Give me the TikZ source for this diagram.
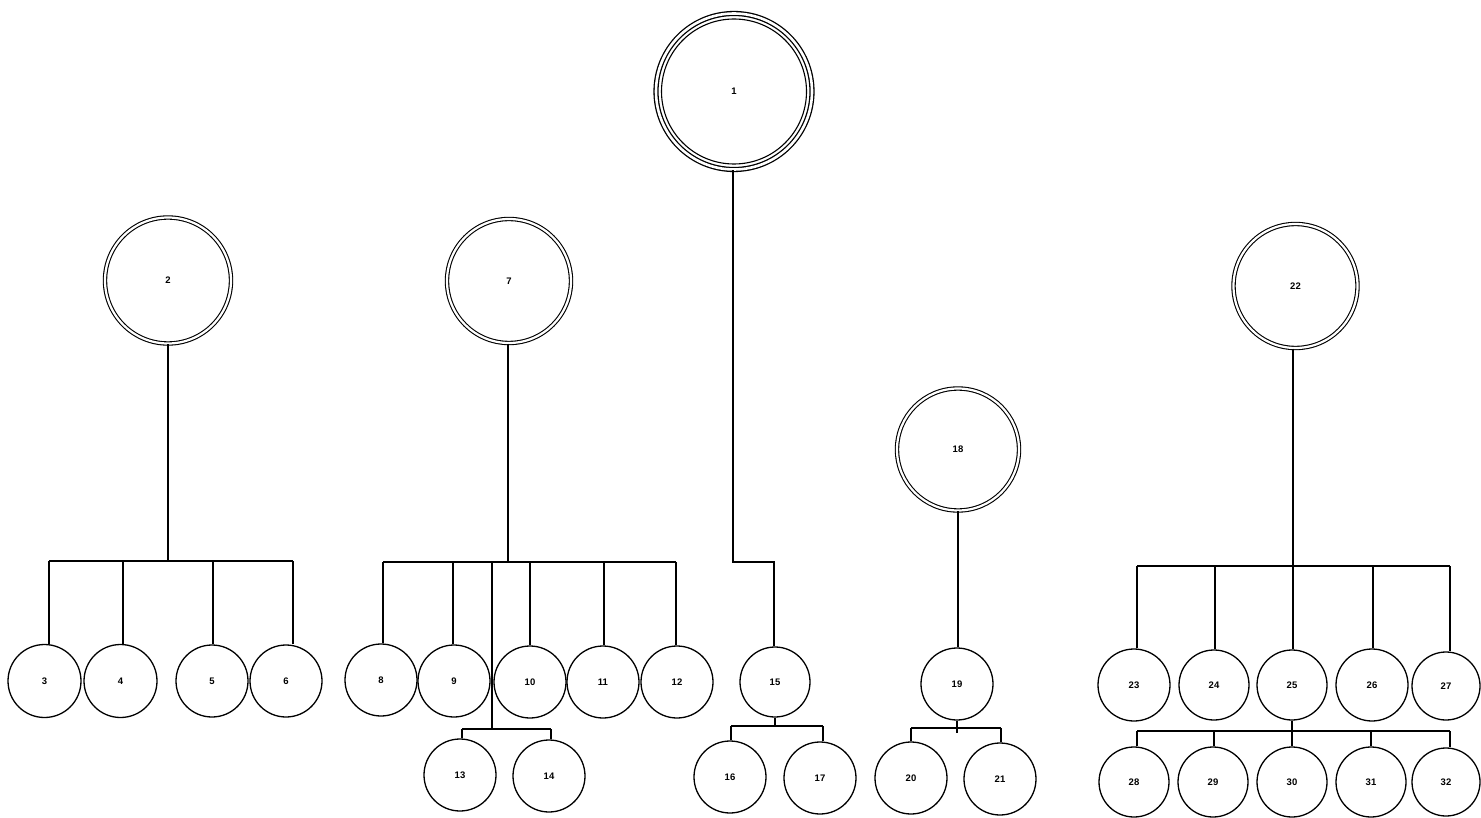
\documentclass[tikz,border=0pt]{standalone}
\usepackage{fontspec}
\setmainfont{Liberation Sans}
\begin{document}
\begin{tikzpicture}[x=1pt,y=-1pt,
  every node/.style={font=\fontsize{9.5}{10}\selectfont\bfseries},
  leaf/.style={circle,draw,line width=1.3pt,minimum size=72pt,inner sep=0pt},
  parent/.style={circle,draw,line width=1.1pt,double,double distance=2.2pt,minimum size=124pt,inner sep=0pt},
  conn/.style={line width=1.3pt}]
\useasboundingbox (0,0) rectangle (1481,818);
% ---- top node 1 (triple ring)
\node[circle,draw,line width=1.3pt,double,double distance=2.6pt,minimum size=156pt,inner sep=0pt] (n1) at (734,91.5) {1};
\draw[line width=1.1pt] (n1.center) circle (72.5);
% ---- parents
\node[parent,minimum size=126pt] (n2) at (168,280.5) {2};
\node[parent] (n7) at (509,281) {7};
\node[parent,minimum size=122pt] (n18) at (958,449.5) {18};
\node[parent] (n22) at (1295.5,286) {22};
% ---- group 2
\node[leaf,minimum size=73pt] (n3) at (44.5,681) {3};
\node[leaf,minimum size=73pt] (n4) at (120.5,681) {4};
\node[leaf,minimum size=72pt] (n5) at (212,681) {5};
\node[leaf,minimum size=72pt] (n6) at (286,681) {6};
\coordinate (j2) at (168,561);
\coordinate (b3) at (49,561);
\coordinate (b4) at (123,561);
\coordinate (b5) at (213,561);
\coordinate (b6) at (293,561);
\draw[conn] (n2.south) -- (j2);
\draw[conn] (b3) -- (b6);
\foreach \b/\n in {b3/n3,b4/n4,b5/n5,b6/n6} \draw[conn] (\b) -- (\b |- \n.north);
% ---- group 7
\node[leaf] (n8) at (381,680) {8};
\node[leaf] (n9) at (454,681) {9};
\node[leaf] (n10) at (530,682) {10};
\node[leaf] (n11) at (603,682) {11};
\node[leaf] (n12) at (677,682) {12};
\node[leaf] (n13) at (460,775) {13};
\node[leaf] (n14) at (549,776) {14};
\coordinate (j7) at (508,562);
\coordinate (b8) at (383,562);
\coordinate (b9) at (453,562);
\coordinate (bx) at (492,562);
\coordinate (b10) at (530,562);
\coordinate (b11) at (604,562);
\coordinate (b12) at (676,562);
\coordinate (s7) at (492,729);
\coordinate (b13) at (462,729);
\coordinate (b14) at (551,729);
\draw[conn] (n7.south -| j7) -- (j7);
\draw[conn] (b8) -- (b12);
\foreach \b/\n in {b8/n8,b9/n9,b10/n10,b11/n11,b12/n12} \draw[conn] (\b) -- (\b |- \n.north);
\draw[conn] (bx) -- (s7);
\draw[conn] (b13) -- (b14);
\foreach \b/\n in {b13/n13,b14/n14} \draw[conn] (\b) -- (\b |- \n.north);
% ---- group 1
\node[leaf,minimum size=70pt] (n15) at (775,682) {15};
\node[leaf] (n16) at (730,777) {16};
\node[leaf] (n17) at (820,778) {17};
\coordinate (j1) at (733,562);
\coordinate (k1) at (774,562);
\draw[conn] (n1.south -| j1) -- (j1) -- (k1) -- (k1 |- n15.north);
\coordinate (j15) at (775,726);
\coordinate (b16) at (731,726);
\coordinate (b17) at (823,726);
\draw[conn] (n15.south) -- (j15);
\draw[conn] (b16) -- (b17);
\foreach \b/\n in {b16/n16,b17/n17} \draw[conn] (\b) -- (\b |- \n.north);
% ---- group 18
\node[leaf] (n19) at (957,684) {19};
\node[leaf] (n20) at (911,778) {20};
\node[leaf] (n21) at (1000,779) {21};
\draw[conn] (n18.south) -- (n18.south |- n19.north);
\coordinate (j19) at (957,733);
\coordinate (b20) at (911,728);
\coordinate (b21) at (1001,728);
\draw[conn] (n19.south) -- (j19);
\draw[conn] (b20) -- (b21);
\foreach \b/\n in {b20/n20,b21/n21} \draw[conn] (\b) -- (\b |- \n.north);
% ---- group 22
\node[leaf] (n23) at (1134,685) {23};
\node[leaf,minimum size=70pt] (n24) at (1214,685) {24};
\node[leaf,minimum size=70pt] (n25) at (1292,685) {25};
\node[leaf] (n26) at (1372,685) {26};
\node[leaf,minimum size=68pt] (n27) at (1446,686) {27};
\node[leaf,minimum size=70pt] (n28) at (1134,782) {28};
\node[leaf,minimum size=70pt] (n29) at (1213,782) {29};
\node[leaf,minimum size=70pt] (n30) at (1292,782) {30};
\node[leaf,minimum size=70pt] (n31) at (1371,782) {31};
\node[leaf,minimum size=68pt] (n32) at (1446,782) {32};
\coordinate (j22) at (1293,566);
\coordinate (b23) at (1137,566);
\coordinate (b24) at (1215,566);
\coordinate (b26) at (1373,566);
\coordinate (b27) at (1450,566);
\draw[conn] (n22.south -| j22) -- (j22) -- (j22 |- n25.north);
\draw[conn] (b23) -- (b27);
\foreach \b/\n in {b23/n23,b24/n24,b26/n26,b27/n27} \draw[conn] (\b) -- (\b |- \n.north);
\coordinate (b28) at (1137,731);
\coordinate (b29) at (1214,731);
\coordinate (b31) at (1371,731);
\coordinate (b32) at (1450,731);
\draw[conn] (n25.south) -- (n30.north);
\draw[conn] (b28) -- (b32);
\foreach \b/\n in {b28/n28,b29/n29,b31/n31,b32/n32} \draw[conn] (\b) -- (\b |- \n.north);
\end{tikzpicture}
\end{document}
